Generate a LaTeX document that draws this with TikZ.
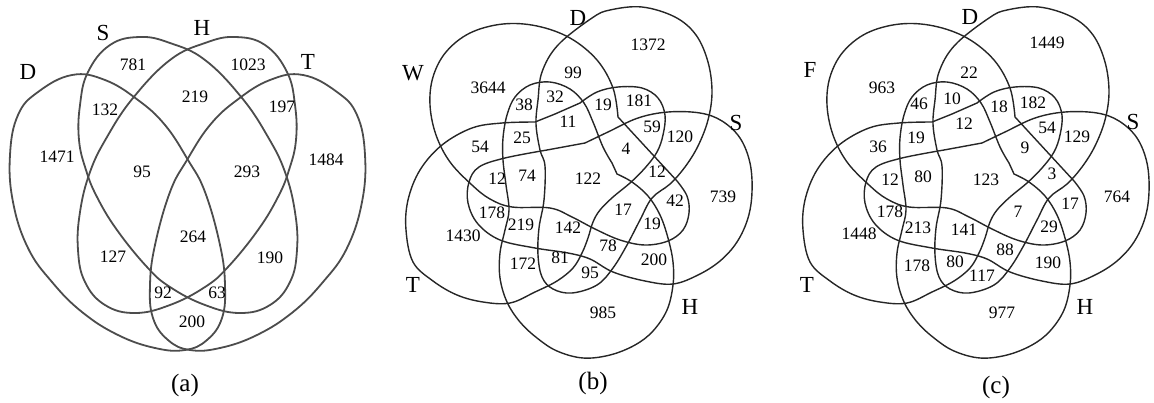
\documentclass[tikz,border=0pt]{standalone}
\usepackage{fontspec}
\setmainfont{Liberation Serif}
\tikzset{
  set line/.style={
    line width=1.4pt,
    draw=black!85,
    line join=round
  },
  set line a/.style={
    line width=1.8pt,
    draw=black!70
  },
  num/.style={
    font=\fontsize{17.5}{20}\selectfont,
    inner sep=0pt
  },
  set name/.style={
    font=\fontsize{23}{26}\selectfont,
    inner sep=0pt
  },
  panel/.style={
    font=\fontsize{25}{28}\selectfont,
    inner sep=0pt
  }
}

\begin{document}
\begin{tikzpicture}[x=1pt, y=-1pt]
    \useasboundingbox (0,0) rectangle (1154,402);

    % (a) 四个椭圆
    \draw[set line a] plot[smooth cycle, tension=0.7] coordinates {(72,75) (38,92) (18,115) (10,155) (13,202) (28,248) (52,282) (82,312) (118,335) (155,348) (185,350) (207,340) (222,318) (225,285) (220,245) (205,192) (188,160) (165,125) (138,100) (105,80)};
    \draw[set line a] plot[smooth cycle, tension=0.7] coordinates {(303,75) (337,92) (357,115) (365,155) (362,202) (347,248) (323,282) (293,312) (257,335) (220,348) (190,350) (168,340) (153,318) (150,285) (155,245) (170,192) (187,160) (210,125) (237,100) (270,80)};
    \draw[set line a] plot[smooth cycle, tension=0.7] coordinates {(140,37) (170,43) (205,60) (242,98) (268,137) (285,172) (295,212) (297,250) (290,282) (270,305) (240,313) (205,305) (170,287) (147,267) (117,230) (97,197) (86,170) (79,140) (80,105) (88,72) (110,45)};
    \draw[set line a] plot[smooth cycle, tension=0.7] coordinates {(235,37) (205,43) (170,60) (133,98) (107,137) (90,172) (80,212) (78,250) (85,282) (105,305) (135,313) (170,305) (205,287) (228,267) (258,230) (278,197) (289,170) (296,140) (295,105) (287,72) (265,45)};

    \foreach \x/\y/\t [count=\i] in {28/72/D, 103/33/S, 202/28/H, 308/62/T} {
      \node[set name] (aset\i) at (\x,\y) {\t};
    }
    \foreach \x/\y/\t [count=\i] in {133/65/781, 248/65/1023, 105/110/132, 195/97/219, 282/107/197,
        57/157/1471, 142/172/95, 247/172/293, 326/160/1484, 193/237/264, 113/257/127,
        270/258/190, 163/293/92, 217/293/63, 192/322/200} {
      \node[num] (a\i) at (\x,\y) {\t};
    }
    \node[panel] (pa) at (185,385) {(a)};

    % (b) (c) 五个集合，形状相同
    \foreach \dx in {0,397} {
      \begin{scope}[xshift=\dx pt]
        % 左上
        \draw[set line] plot[smooth, tension=0.6] coordinates {(618,117) (613,88) (597,60) (570,38) (537,26) (503,24) (470,33) (446,52) (433,77) (430,105) (436,135) (450,162) (472,185) (490,199) (512,207) (550,208) (572,217) (595,229) (620,240) (645,245) (668,241) (683,230) (689,213) (687,196) (677,181)} -- cycle;
        % 上
        \draw[set line] plot[smooth cycle, tension=0.6] coordinates {(592,18) (610,10) (642,7) (675,17) (696,35) (708,62) (712,92) (708,120) (698,146) (685,167) (670,184) (652,198) (640,220) (627,245) (613,268) (597,285) (572,293) (553,289) (542,277) (538,255) (539,228) (544,200) (545,166) (540,150) (536,124) (538,100) (542,72) (558,45)};
        % 右
        \draw[set line] plot[smooth, tension=0.6] coordinates {(585,143) (608,132) (638,118) (668,112) (700,113) (722,121) (740,138) (750,163) (752,192) (748,218) (737,242) (720,261) (698,275) (673,284) (645,281) (613,272) (590,259) (568,253) (535,248) (500,240) (478,224) (468,203) (469,182) (479,167) (505,158) (547,150)} -- cycle;
        % 右下
        \draw[set line] plot[smooth, tension=0.6] coordinates {(617,174) (632,182) (648,196) (660,215) (668,238) (673,262) (673,285) (667,310) (653,331) (635,345) (610,355) (583,358) (557,351) (537,338) (520,322) (507,302) (500,278) (500,253) (505,230) (509,210) (506,185) (503,160) (503,138) (507,115) (515,97) (530,85) (550,82) (570,89) (584,103) (593,122) (603,147) (612,163)} -- cycle;
        % 左下
        \draw[set line] plot[smooth, tension=0.6] coordinates {(535,122) (502,123) (472,128) (442,145) (420,170) (408,200) (406,230) (413,262) (433,281) (457,295) (483,302) (510,303) (535,292) (557,281) (573,268) (582,253) (588,238) (593,222) (600,210) (613,197) (630,183) (645,168) (657,152) (663,135) (665,115) (658,98) (642,88) (618,87) (597,92) (580,103)} -- (555,114) -- cycle;
      \end{scope}
    }

    % (b) 标注
    \foreach \x/\y/\t [count=\i] in {413/73/W, 578/18/D, 736/123/S, 690/307/H, 413/285/T} {
      \node[set name] (bset\i) at (\x,\y) {\t};
    }
    \foreach \x/\y/\t [count=\i] in {648/45/1372, 573/73/99, 488/88/3644, 524/105/38, 555/97/32,
        603/105/19, 639/101/181, 568/122/11, 652/127/59, 680/137/120, 522/138/25,
        480/147/54, 626/149/4, 497/179/12, 527/176/74, 588/179/122, 657/172/12,
        675/201/42, 723/197/739, 492/213/178, 521/225/219, 568/228/142, 623/210/17,
        652/224/19, 463/236/1430, 608/246/78, 654/260/200, 523/264/172, 560/258/81,
        590/273/95, 603/313/985} {
      \node[num] (b\i) at (\x,\y) {\t};
    }
    \node[panel] (pb) at (593,383) {(b)};

    % (c) 标注
    \foreach \x/\y/\t [count=\i] in {810/70/F, 970/17/D, 1133/122/S, 1085/307/H, 807/285/T} {
      \node[set name] (cset\i) at (\x,\y) {\t};
    }
    \foreach \x/\y/\t [count=\i] in {1047/43/1449, 969/73/22, 882/88/963, 919/104/46, 952/99/10,
        999/107/18, 1033/103/182, 964/124/12, 1047/128/54, 1077/137/129, 916/138/19,
        878/147/36, 1025/148/9, 890/180/12, 923/177/80, 986/180/123, 1052/174/3,
        1070/204/17, 1117/197/764, 890/212/178, 918/228/213, 964/230/141, 1018/212/7,
        1049/227/29, 859/234/1448, 1005/250/88, 1048/263/190, 917/266/178, 955/262/80,
        982/276/117, 1002/313/977} {
      \node[num] (c\i) at (\x,\y) {\t};
    }
    \node[panel] (pc) at (996,387) {(c)};

\end{tikzpicture}
\end{document}
